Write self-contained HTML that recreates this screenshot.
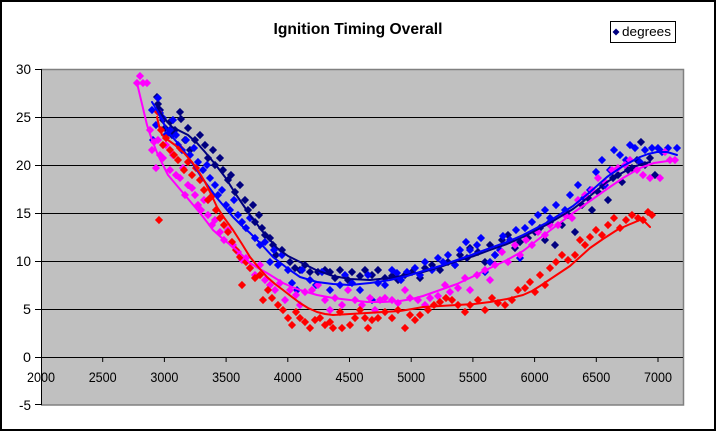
<!DOCTYPE html>
<html>
<head>
<meta charset="utf-8">
<style>
html,body{margin:0;padding:0;background:#fff;}
svg{display:block;}
text{font-family:"Liberation Sans",Arial,sans-serif;fill:#000;}
</style>
</head>
<body>
<svg width="716" height="431" viewBox="0 0 716 431" xmlns="http://www.w3.org/2000/svg">
  <rect x="1" y="1" width="714" height="429" fill="#fff" stroke="#000" stroke-width="2"/>
  <text x="358" y="34" text-anchor="middle" font-size="15.5" font-weight="bold" textLength="169" lengthAdjust="spacingAndGlyphs">Ignition Timing Overall</text>

  <!-- legend -->
  <rect x="610.5" y="21.5" width="65" height="21" fill="#fff" stroke="#000" stroke-width="1"/>
  <path d="M616 28.5l3.5 3.5-3.5 3.5-3.5-3.5z" fill="#000080"/>
  <text x="622" y="36" font-size="12.5" textLength="49" lengthAdjust="spacingAndGlyphs">degrees</text>

  <!-- plot area -->
  <rect x="41" y="69" width="642" height="336" fill="#C0C0C0"/>
  <g stroke="#000" stroke-width="1">
    <line x1="41" y1="117.5" x2="683" y2="117.5"/>
    <line x1="41" y1="165.5" x2="683" y2="165.5"/>
    <line x1="41" y1="213.5" x2="683" y2="213.5"/>
    <line x1="41" y1="261.5" x2="683" y2="261.5"/>
    <line x1="41" y1="309.5" x2="683" y2="309.5"/>
  </g>
  <path d="M41 69.5H683.5V405H41" fill="none" stroke="#808080" stroke-width="1.5"/>

  <!-- axes -->
  <g stroke="#000" stroke-width="1">
    <line x1="41.5" y1="69" x2="41.5" y2="405"/>
    <line x1="41" y1="357.5" x2="683" y2="357.5"/>
    <line x1="35" y1="69.5" x2="41" y2="69.5"/>
    <line x1="35" y1="117.5" x2="41" y2="117.5"/>
    <line x1="35" y1="165.5" x2="41" y2="165.5"/>
    <line x1="35" y1="213.5" x2="41" y2="213.5"/>
    <line x1="35" y1="261.5" x2="41" y2="261.5"/>
    <line x1="35" y1="309.5" x2="41" y2="309.5"/>
    <line x1="35" y1="357.5" x2="41" y2="357.5"/>
    <line x1="35" y1="404.5" x2="41" y2="404.5"/>
    <line x1="102.7" y1="357" x2="102.7" y2="362"/>
    <line x1="164.4" y1="357" x2="164.4" y2="362"/>
    <line x1="226.1" y1="357" x2="226.1" y2="362"/>
    <line x1="287.8" y1="357" x2="287.8" y2="362"/>
    <line x1="349.5" y1="357" x2="349.5" y2="362"/>
    <line x1="411.2" y1="357" x2="411.2" y2="362"/>
    <line x1="472.9" y1="357" x2="472.9" y2="362"/>
    <line x1="534.6" y1="357" x2="534.6" y2="362"/>
    <line x1="596.3" y1="357" x2="596.3" y2="362"/>
    <line x1="658" y1="357" x2="658" y2="362"/>
  </g>

  <g font-size="14" text-anchor="end">
    <text x="31" y="74" textLength="15" lengthAdjust="spacingAndGlyphs">30</text>
    <text x="31" y="122" textLength="15" lengthAdjust="spacingAndGlyphs">25</text>
    <text x="31" y="170" textLength="15" lengthAdjust="spacingAndGlyphs">20</text>
    <text x="31" y="218" textLength="15" lengthAdjust="spacingAndGlyphs">15</text>
    <text x="31" y="266" textLength="15" lengthAdjust="spacingAndGlyphs">10</text>
    <text x="31" y="314" textLength="8" lengthAdjust="spacingAndGlyphs">5</text>
    <text x="31" y="362" textLength="8" lengthAdjust="spacingAndGlyphs">0</text>
    <text x="31" y="410" textLength="12" lengthAdjust="spacingAndGlyphs">-5</text>
  </g>
  <g font-size="14" text-anchor="middle">
    <text x="41" y="382" textLength="28" lengthAdjust="spacingAndGlyphs">2000</text>
    <text x="102.7" y="382" textLength="28" lengthAdjust="spacingAndGlyphs">2500</text>
    <text x="164.4" y="382" textLength="28" lengthAdjust="spacingAndGlyphs">3000</text>
    <text x="226.1" y="382" textLength="28" lengthAdjust="spacingAndGlyphs">3500</text>
    <text x="287.8" y="382" textLength="28" lengthAdjust="spacingAndGlyphs">4000</text>
    <text x="349.5" y="382" textLength="28" lengthAdjust="spacingAndGlyphs">4500</text>
    <text x="411.2" y="382" textLength="28" lengthAdjust="spacingAndGlyphs">5000</text>
    <text x="472.9" y="382" textLength="28" lengthAdjust="spacingAndGlyphs">5500</text>
    <text x="534.6" y="382" textLength="28" lengthAdjust="spacingAndGlyphs">6000</text>
    <text x="596.3" y="382" textLength="28" lengthAdjust="spacingAndGlyphs">6500</text>
    <text x="658" y="382" textLength="28" lengthAdjust="spacingAndGlyphs">7000</text>
  </g>

  <!-- scatter points -->
  <g transform="translate(0,-3.5)" stroke-width="0.8" stroke-linejoin="miter">
    <!-- navy -->
    <path fill="#000080" stroke="#000080" d="
M157 97l3.5 3.5-3.5 3.5-3.5-3.5z M158 104l3.5 3.5-3.5 3.5-3.5-3.5z M160 110l3.5 3.5-3.5 3.5-3.5-3.5z M163 120l3.5 3.5-3.5 3.5-3.5-3.5z
M165 128l3.5 3.5-3.5 3.5-3.5-3.5z M170 122l3.5 3.5-3.5 3.5-3.5-3.5z M172 135l3.5 3.5-3.5 3.5-3.5-3.5z M175 130l3.5 3.5-3.5 3.5-3.5-3.5z
M180 112l3.5 3.5-3.5 3.5-3.5-3.5z M181 119l3.5 3.5-3.5 3.5-3.5-3.5z M185 140l3.5 3.5-3.5 3.5-3.5-3.5z M188 128l3.5 3.5-3.5 3.5-3.5-3.5z
M190 150l3.5 3.5-3.5 3.5-3.5-3.5z M195 140l3.5 3.5-3.5 3.5-3.5-3.5z M200 135l3.5 3.5-3.5 3.5-3.5-3.5z M205 145l3.5 3.5-3.5 3.5-3.5-3.5z
M208 158l3.5 3.5-3.5 3.5-3.5-3.5z M213 150l3.5 3.5-3.5 3.5-3.5-3.5z M215 165l3.5 3.5-3.5 3.5-3.5-3.5z M220 158l3.5 3.5-3.5 3.5-3.5-3.5z
M223 170l3.5 3.5-3.5 3.5-3.5-3.5z M228 180l3.5 3.5-3.5 3.5-3.5-3.5z M231 175l3.5 3.5-3.5 3.5-3.5-3.5z M235 192l3.5 3.5-3.5 3.5-3.5-3.5z
M240 185l3.5 3.5-3.5 3.5-3.5-3.5z M245 200l3.5 3.5-3.5 3.5-3.5-3.5z M248 210l3.5 3.5-3.5 3.5-3.5-3.5z M253 205l3.5 3.5-3.5 3.5-3.5-3.5z
M255 222l3.5 3.5-3.5 3.5-3.5-3.5z M259 215l3.5 3.5-3.5 3.5-3.5-3.5z M262 228l3.5 3.5-3.5 3.5-3.5-3.5z M265 235l3.5 3.5-3.5 3.5-3.5-3.5z
M270 238l3.5 3.5-3.5 3.5-3.5-3.5z M273 245l3.5 3.5-3.5 3.5-3.5-3.5z M276 255l3.5 3.5-3.5 3.5-3.5-3.5z M282 250l3.5 3.5-3.5 3.5-3.5-3.5z
M290 262l3.5 3.5-3.5 3.5-3.5-3.5z M295 268l3.5 3.5-3.5 3.5-3.5-3.5z M300 270l3.5 3.5-3.5 3.5-3.5-3.5z M305 265l3.5 3.5-3.5 3.5-3.5-3.5z
M310 272l3.5 3.5-3.5 3.5-3.5-3.5z M318 272l3.5 3.5-3.5 3.5-3.5-3.5z M325 270l3.5 3.5-3.5 3.5-3.5-3.5z M330 272l3.5 3.5-3.5 3.5-3.5-3.5z
M335 278l3.5 3.5-3.5 3.5-3.5-3.5z M340 270l3.5 3.5-3.5 3.5-3.5-3.5z M348 280l3.5 3.5-3.5 3.5-3.5-3.5z M352 272l3.5 3.5-3.5 3.5-3.5-3.5z
M360 276l3.5 3.5-3.5 3.5-3.5-3.5z M365 270l3.5 3.5-3.5 3.5-3.5-3.5z M372 275l3.5 3.5-3.5 3.5-3.5-3.5z M378 270l3.5 3.5-3.5 3.5-3.5-3.5z
M385 278l3.5 3.5-3.5 3.5-3.5-3.5z M392 276l3.5 3.5-3.5 3.5-3.5-3.5z M398 280l3.5 3.5-3.5 3.5-3.5-3.5z M405 275l3.5 3.5-3.5 3.5-3.5-3.5z
M412 272l3.5 3.5-3.5 3.5-3.5-3.5z M420 278l3.5 3.5-3.5 3.5-3.5-3.5z M425 268l3.5 3.5-3.5 3.5-3.5-3.5z M432 265l3.5 3.5-3.5 3.5-3.5-3.5z
M440 270l3.5 3.5-3.5 3.5-3.5-3.5z M448 262l3.5 3.5-3.5 3.5-3.5-3.5z M455 265l3.5 3.5-3.5 3.5-3.5-3.5z M460 255l3.5 3.5-3.5 3.5-3.5-3.5z
M467 258l3.5 3.5-3.5 3.5-3.5-3.5z M470 248l3.5 3.5-3.5 3.5-3.5-3.5z M478 252l3.5 3.5-3.5 3.5-3.5-3.5z M485 262l3.5 3.5-3.5 3.5-3.5-3.5z
M490 245l3.5 3.5-3.5 3.5-3.5-3.5z M495 255l3.5 3.5-3.5 3.5-3.5-3.5z M502 240l3.5 3.5-3.5 3.5-3.5-3.5z M508 235l3.5 3.5-3.5 3.5-3.5-3.5z
M515 248l3.5 3.5-3.5 3.5-3.5-3.5z M520 242l3.5 3.5-3.5 3.5-3.5-3.5z M528 238l3.5 3.5-3.5 3.5-3.5-3.5z M535 232l3.5 3.5-3.5 3.5-3.5-3.5z
M540 228l3.5 3.5-3.5 3.5-3.5-3.5z M545 240l3.5 3.5-3.5 3.5-3.5-3.5z M550 222l3.5 3.5-3.5 3.5-3.5-3.5z M555 245l3.5 3.5-3.5 3.5-3.5-3.5z
M562 225l3.5 3.5-3.5 3.5-3.5-3.5z M568 215l3.5 3.5-3.5 3.5-3.5-3.5z M575 232l3.5 3.5-3.5 3.5-3.5-3.5z M582 205l3.5 3.5-3.5 3.5-3.5-3.5z
M588 198l3.5 3.5-3.5 3.5-3.5-3.5z M592 210l3.5 3.5-3.5 3.5-3.5-3.5z M598 192l3.5 3.5-3.5 3.5-3.5-3.5z M603 186l3.5 3.5-3.5 3.5-3.5-3.5z
M608 200l3.5 3.5-3.5 3.5-3.5-3.5z M613 178l3.5 3.5-3.5 3.5-3.5-3.5z M618 175l3.5 3.5-3.5 3.5-3.5-3.5z M622 182l3.5 3.5-3.5 3.5-3.5-3.5z
M628 170l3.5 3.5-3.5 3.5-3.5-3.5z M632 168l3.5 3.5-3.5 3.5-3.5-3.5z M637 160l3.5 3.5-3.5 3.5-3.5-3.5z M641 142l3.5 3.5-3.5 3.5-3.5-3.5z
M645 165l3.5 3.5-3.5 3.5-3.5-3.5z M650 158l3.5 3.5-3.5 3.5-3.5-3.5z M655 175l3.5 3.5-3.5 3.5-3.5-3.5z"/>
    <!-- blue -->
    <path fill="#0000FF" stroke="#0000FF" d="
M152 110l3.5 3.5-3.5 3.5-3.5-3.5z M153 140l3.5 3.5-3.5 3.5-3.5-3.5z M156 125l3.5 3.5-3.5 3.5-3.5-3.5z M158 98l3.5 3.5-3.5 3.5-3.5-3.5z
M160 113l3.5 3.5-3.5 3.5-3.5-3.5z M163 118l3.5 3.5-3.5 3.5-3.5-3.5z M166 135l3.5 3.5-3.5 3.5-3.5-3.5z M170 130l3.5 3.5-3.5 3.5-3.5-3.5z
M173 120l3.5 3.5-3.5 3.5-3.5-3.5z M176 135l3.5 3.5-3.5 3.5-3.5-3.5z M178 145l3.5 3.5-3.5 3.5-3.5-3.5z M182 150l3.5 3.5-3.5 3.5-3.5-3.5z
M186 140l3.5 3.5-3.5 3.5-3.5-3.5z M190 155l3.5 3.5-3.5 3.5-3.5-3.5z M194 148l3.5 3.5-3.5 3.5-3.5-3.5z M198 162l3.5 3.5-3.5 3.5-3.5-3.5z
M203 170l3.5 3.5-3.5 3.5-3.5-3.5z M207 165l3.5 3.5-3.5 3.5-3.5-3.5z M210 178l3.5 3.5-3.5 3.5-3.5-3.5z M215 185l3.5 3.5-3.5 3.5-3.5-3.5z
M218 195l3.5 3.5-3.5 3.5-3.5-3.5z M222 190l3.5 3.5-3.5 3.5-3.5-3.5z M226 205l3.5 3.5-3.5 3.5-3.5-3.5z M230 210l3.5 3.5-3.5 3.5-3.5-3.5z
M234 200l3.5 3.5-3.5 3.5-3.5-3.5z M238 215l3.5 3.5-3.5 3.5-3.5-3.5z M242 222l3.5 3.5-3.5 3.5-3.5-3.5z M246 228l3.5 3.5-3.5 3.5-3.5-3.5z
M250 218l3.5 3.5-3.5 3.5-3.5-3.5z M255 238l3.5 3.5-3.5 3.5-3.5-3.5z M260 245l3.5 3.5-3.5 3.5-3.5-3.5z M265 242l3.5 3.5-3.5 3.5-3.5-3.5z
M270 262l3.5 3.5-3.5 3.5-3.5-3.5z M274 250l3.5 3.5-3.5 3.5-3.5-3.5z M278 265l3.5 3.5-3.5 3.5-3.5-3.5z M282 255l3.5 3.5-3.5 3.5-3.5-3.5z
M288 270l3.5 3.5-3.5 3.5-3.5-3.5z M292 283l3.5 3.5-3.5 3.5-3.5-3.5z M297 290l3.5 3.5-3.5 3.5-3.5-3.5z M302 270l3.5 3.5-3.5 3.5-3.5-3.5z
M310 280l3.5 3.5-3.5 3.5-3.5-3.5z M316 285l3.5 3.5-3.5 3.5-3.5-3.5z M322 272l3.5 3.5-3.5 3.5-3.5-3.5z M330 290l3.5 3.5-3.5 3.5-3.5-3.5z
M340 285l3.5 3.5-3.5 3.5-3.5-3.5z M345 275l3.5 3.5-3.5 3.5-3.5-3.5z M352 283l3.5 3.5-3.5 3.5-3.5-3.5z M360 290l3.5 3.5-3.5 3.5-3.5-3.5z
M368 275l3.5 3.5-3.5 3.5-3.5-3.5z M372 300l3.5 3.5-3.5 3.5-3.5-3.5z M378 283l3.5 3.5-3.5 3.5-3.5-3.5z M385 285l3.5 3.5-3.5 3.5-3.5-3.5z
M392 270l3.5 3.5-3.5 3.5-3.5-3.5z M397 273l3.5 3.5-3.5 3.5-3.5-3.5z M401 280l3.5 3.5-3.5 3.5-3.5-3.5z M407 272l3.5 3.5-3.5 3.5-3.5-3.5z
M415 268l3.5 3.5-3.5 3.5-3.5-3.5z M420 275l3.5 3.5-3.5 3.5-3.5-3.5z M425 262l3.5 3.5-3.5 3.5-3.5-3.5z M432 270l3.5 3.5-3.5 3.5-3.5-3.5z
M438 258l3.5 3.5-3.5 3.5-3.5-3.5z M443 262l3.5 3.5-3.5 3.5-3.5-3.5z M448 255l3.5 3.5-3.5 3.5-3.5-3.5z M455 265l3.5 3.5-3.5 3.5-3.5-3.5z
M460 250l3.5 3.5-3.5 3.5-3.5-3.5z M466 242l3.5 3.5-3.5 3.5-3.5-3.5z M470 250l3.5 3.5-3.5 3.5-3.5-3.5z M477 245l3.5 3.5-3.5 3.5-3.5-3.5z
M481 238l3.5 3.5-3.5 3.5-3.5-3.5z M485 272l3.5 3.5-3.5 3.5-3.5-3.5z M490 262l3.5 3.5-3.5 3.5-3.5-3.5z M495 255l3.5 3.5-3.5 3.5-3.5-3.5z
M500 250l3.5 3.5-3.5 3.5-3.5-3.5z M503 236l3.5 3.5-3.5 3.5-3.5-3.5z M510 240l3.5 3.5-3.5 3.5-3.5-3.5z M516 230l3.5 3.5-3.5 3.5-3.5-3.5z
M520 258l3.5 3.5-3.5 3.5-3.5-3.5z M525 228l3.5 3.5-3.5 3.5-3.5-3.5z M532 222l3.5 3.5-3.5 3.5-3.5-3.5z M538 215l3.5 3.5-3.5 3.5-3.5-3.5z
M545 210l3.5 3.5-3.5 3.5-3.5-3.5z M550 218l3.5 3.5-3.5 3.5-3.5-3.5z M556 205l3.5 3.5-3.5 3.5-3.5-3.5z M565 210l3.5 3.5-3.5 3.5-3.5-3.5z
M570 195l3.5 3.5-3.5 3.5-3.5-3.5z M578 185l3.5 3.5-3.5 3.5-3.5-3.5z M584 198l3.5 3.5-3.5 3.5-3.5-3.5z M590 190l3.5 3.5-3.5 3.5-3.5-3.5z
M596 172l3.5 3.5-3.5 3.5-3.5-3.5z M602 160l3.5 3.5-3.5 3.5-3.5-3.5z M605 185l3.5 3.5-3.5 3.5-3.5-3.5z M610 170l3.5 3.5-3.5 3.5-3.5-3.5z
M614 150l3.5 3.5-3.5 3.5-3.5-3.5z M620 155l3.5 3.5-3.5 3.5-3.5-3.5z M626 160l3.5 3.5-3.5 3.5-3.5-3.5z M630 145l3.5 3.5-3.5 3.5-3.5-3.5z
M635 148l3.5 3.5-3.5 3.5-3.5-3.5z M640 162l3.5 3.5-3.5 3.5-3.5-3.5z M645 150l3.5 3.5-3.5 3.5-3.5-3.5z M652 148l3.5 3.5-3.5 3.5-3.5-3.5z
M658 148l3.5 3.5-3.5 3.5-3.5-3.5z M662 152l3.5 3.5-3.5 3.5-3.5-3.5z M668 148l3.5 3.5-3.5 3.5-3.5-3.5z M677 148l3.5 3.5-3.5 3.5-3.5-3.5z"/>
    <!-- magenta -->
    <path fill="#FF00FF" stroke="#FF00FF" d="
M137 83l3.5 3.5-3.5 3.5-3.5-3.5z M140 76l3.5 3.5-3.5 3.5-3.5-3.5z M143 83l3.5 3.5-3.5 3.5-3.5-3.5z M147 83l3.5 3.5-3.5 3.5-3.5-3.5z
M150 130l3.5 3.5-3.5 3.5-3.5-3.5z M152 150l3.5 3.5-3.5 3.5-3.5-3.5z M154 142l3.5 3.5-3.5 3.5-3.5-3.5z M156 168l3.5 3.5-3.5 3.5-3.5-3.5z
M158 140l3.5 3.5-3.5 3.5-3.5-3.5z M160 155l3.5 3.5-3.5 3.5-3.5-3.5z M163 158l3.5 3.5-3.5 3.5-3.5-3.5z M166 145l3.5 3.5-3.5 3.5-3.5-3.5z
M170 170l3.5 3.5-3.5 3.5-3.5-3.5z M173 155l3.5 3.5-3.5 3.5-3.5-3.5z M176 175l3.5 3.5-3.5 3.5-3.5-3.5z M180 178l3.5 3.5-3.5 3.5-3.5-3.5z
M183 168l3.5 3.5-3.5 3.5-3.5-3.5z M185 195l3.5 3.5-3.5 3.5-3.5-3.5z M188 185l3.5 3.5-3.5 3.5-3.5-3.5z M192 188l3.5 3.5-3.5 3.5-3.5-3.5z
M195 195l3.5 3.5-3.5 3.5-3.5-3.5z M198 205l3.5 3.5-3.5 3.5-3.5-3.5z M201 210l3.5 3.5-3.5 3.5-3.5-3.5z M204 200l3.5 3.5-3.5 3.5-3.5-3.5z
M208 215l3.5 3.5-3.5 3.5-3.5-3.5z M212 225l3.5 3.5-3.5 3.5-3.5-3.5z M215 220l3.5 3.5-3.5 3.5-3.5-3.5z M220 232l3.5 3.5-3.5 3.5-3.5-3.5z
M224 240l3.5 3.5-3.5 3.5-3.5-3.5z M228 230l3.5 3.5-3.5 3.5-3.5-3.5z M233 245l3.5 3.5-3.5 3.5-3.5-3.5z M238 252l3.5 3.5-3.5 3.5-3.5-3.5z
M242 260l3.5 3.5-3.5 3.5-3.5-3.5z M246 258l3.5 3.5-3.5 3.5-3.5-3.5z M250 268l3.5 3.5-3.5 3.5-3.5-3.5z M255 275l3.5 3.5-3.5 3.5-3.5-3.5z
M260 265l3.5 3.5-3.5 3.5-3.5-3.5z M265 280l3.5 3.5-3.5 3.5-3.5-3.5z M270 285l3.5 3.5-3.5 3.5-3.5-3.5z M275 290l3.5 3.5-3.5 3.5-3.5-3.5z
M280 283l3.5 3.5-3.5 3.5-3.5-3.5z M285 300l3.5 3.5-3.5 3.5-3.5-3.5z M290 290l3.5 3.5-3.5 3.5-3.5-3.5z M296 295l3.5 3.5-3.5 3.5-3.5-3.5z
M300 305l3.5 3.5-3.5 3.5-3.5-3.5z M305 292l3.5 3.5-3.5 3.5-3.5-3.5z M312 290l3.5 3.5-3.5 3.5-3.5-3.5z M318 285l3.5 3.5-3.5 3.5-3.5-3.5z
M325 300l3.5 3.5-3.5 3.5-3.5-3.5z M330 310l3.5 3.5-3.5 3.5-3.5-3.5z M335 298l3.5 3.5-3.5 3.5-3.5-3.5z M342 305l3.5 3.5-3.5 3.5-3.5-3.5z
M348 290l3.5 3.5-3.5 3.5-3.5-3.5z M355 300l3.5 3.5-3.5 3.5-3.5-3.5z M362 305l3.5 3.5-3.5 3.5-3.5-3.5z M370 298l3.5 3.5-3.5 3.5-3.5-3.5z
M375 310l3.5 3.5-3.5 3.5-3.5-3.5z M380 300l3.5 3.5-3.5 3.5-3.5-3.5z M385 298l3.5 3.5-3.5 3.5-3.5-3.5z M392 300l3.5 3.5-3.5 3.5-3.5-3.5z
M398 303l3.5 3.5-3.5 3.5-3.5-3.5z M405 290l3.5 3.5-3.5 3.5-3.5-3.5z M410 298l3.5 3.5-3.5 3.5-3.5-3.5z M418 300l3.5 3.5-3.5 3.5-3.5-3.5z
M425 305l3.5 3.5-3.5 3.5-3.5-3.5z M430 298l3.5 3.5-3.5 3.5-3.5-3.5z M438 296l3.5 3.5-3.5 3.5-3.5-3.5z M445 285l3.5 3.5-3.5 3.5-3.5-3.5z
M450 292l3.5 3.5-3.5 3.5-3.5-3.5z M458 288l3.5 3.5-3.5 3.5-3.5-3.5z M465 278l3.5 3.5-3.5 3.5-3.5-3.5z M470 290l3.5 3.5-3.5 3.5-3.5-3.5z
M477 275l3.5 3.5-3.5 3.5-3.5-3.5z M485 270l3.5 3.5-3.5 3.5-3.5-3.5z M490 280l3.5 3.5-3.5 3.5-3.5-3.5z M495 265l3.5 3.5-3.5 3.5-3.5-3.5z
M502 252l3.5 3.5-3.5 3.5-3.5-3.5z M508 262l3.5 3.5-3.5 3.5-3.5-3.5z M515 245l3.5 3.5-3.5 3.5-3.5-3.5z M520 255l3.5 3.5-3.5 3.5-3.5-3.5z
M526 240l3.5 3.5-3.5 3.5-3.5-3.5z M532 245l3.5 3.5-3.5 3.5-3.5-3.5z M538 232l3.5 3.5-3.5 3.5-3.5-3.5z M545 235l3.5 3.5-3.5 3.5-3.5-3.5z
M550 225l3.5 3.5-3.5 3.5-3.5-3.5z M558 225l3.5 3.5-3.5 3.5-3.5-3.5z M565 215l3.5 3.5-3.5 3.5-3.5-3.5z M572 218l3.5 3.5-3.5 3.5-3.5-3.5z
M578 200l3.5 3.5-3.5 3.5-3.5-3.5z M585 195l3.5 3.5-3.5 3.5-3.5-3.5z M592 190l3.5 3.5-3.5 3.5-3.5-3.5z M598 178l3.5 3.5-3.5 3.5-3.5-3.5z
M605 182l3.5 3.5-3.5 3.5-3.5-3.5z M612 170l3.5 3.5-3.5 3.5-3.5-3.5z M618 168l3.5 3.5-3.5 3.5-3.5-3.5z M625 165l3.5 3.5-3.5 3.5-3.5-3.5z
M630 160l3.5 3.5-3.5 3.5-3.5-3.5z M637 170l3.5 3.5-3.5 3.5-3.5-3.5z M643 175l3.5 3.5-3.5 3.5-3.5-3.5z M650 178l3.5 3.5-3.5 3.5-3.5-3.5z
M660 178l3.5 3.5-3.5 3.5-3.5-3.5z M665 152l3.5 3.5-3.5 3.5-3.5-3.5z M670 160l3.5 3.5-3.5 3.5-3.5-3.5z M675 160l3.5 3.5-3.5 3.5-3.5-3.5z"/>
    <!-- red -->
    <path fill="#FF0000" stroke="#FF0000" d="
M158 112l3.5 3.5-3.5 3.5-3.5-3.5z M159 220l3.5 3.5-3.5 3.5-3.5-3.5z M161 130l3.5 3.5-3.5 3.5-3.5-3.5z M163 145l3.5 3.5-3.5 3.5-3.5-3.5z
M166 138l3.5 3.5-3.5 3.5-3.5-3.5z M170 150l3.5 3.5-3.5 3.5-3.5-3.5z M174 155l3.5 3.5-3.5 3.5-3.5-3.5z M178 160l3.5 3.5-3.5 3.5-3.5-3.5z
M180 148l3.5 3.5-3.5 3.5-3.5-3.5z M184 170l3.5 3.5-3.5 3.5-3.5-3.5z M188 162l3.5 3.5-3.5 3.5-3.5-3.5z M192 175l3.5 3.5-3.5 3.5-3.5-3.5z
M196 168l3.5 3.5-3.5 3.5-3.5-3.5z M200 180l3.5 3.5-3.5 3.5-3.5-3.5z M204 190l3.5 3.5-3.5 3.5-3.5-3.5z M208 200l3.5 3.5-3.5 3.5-3.5-3.5z
M212 196l3.5 3.5-3.5 3.5-3.5-3.5z M216 210l3.5 3.5-3.5 3.5-3.5-3.5z M220 218l3.5 3.5-3.5 3.5-3.5-3.5z M224 225l3.5 3.5-3.5 3.5-3.5-3.5z
M228 232l3.5 3.5-3.5 3.5-3.5-3.5z M232 242l3.5 3.5-3.5 3.5-3.5-3.5z M236 250l3.5 3.5-3.5 3.5-3.5-3.5z M240 257l3.5 3.5-3.5 3.5-3.5-3.5z
M242 285l3.5 3.5-3.5 3.5-3.5-3.5z M246 262l3.5 3.5-3.5 3.5-3.5-3.5z M250 268l3.5 3.5-3.5 3.5-3.5-3.5z M255 278l3.5 3.5-3.5 3.5-3.5-3.5z
M260 275l3.5 3.5-3.5 3.5-3.5-3.5z M263 300l3.5 3.5-3.5 3.5-3.5-3.5z M268 290l3.5 3.5-3.5 3.5-3.5-3.5z M272 298l3.5 3.5-3.5 3.5-3.5-3.5z
M278 305l3.5 3.5-3.5 3.5-3.5-3.5z M283 310l3.5 3.5-3.5 3.5-3.5-3.5z M288 318l3.5 3.5-3.5 3.5-3.5-3.5z M292 325l3.5 3.5-3.5 3.5-3.5-3.5z
M296 312l3.5 3.5-3.5 3.5-3.5-3.5z M300 318l3.5 3.5-3.5 3.5-3.5-3.5z M305 322l3.5 3.5-3.5 3.5-3.5-3.5z M310 328l3.5 3.5-3.5 3.5-3.5-3.5z
M315 320l3.5 3.5-3.5 3.5-3.5-3.5z M320 318l3.5 3.5-3.5 3.5-3.5-3.5z M325 325l3.5 3.5-3.5 3.5-3.5-3.5z M330 322l3.5 3.5-3.5 3.5-3.5-3.5z
M333 328l3.5 3.5-3.5 3.5-3.5-3.5z M340 312l3.5 3.5-3.5 3.5-3.5-3.5z M342 328l3.5 3.5-3.5 3.5-3.5-3.5z M350 325l3.5 3.5-3.5 3.5-3.5-3.5z
M355 318l3.5 3.5-3.5 3.5-3.5-3.5z M360 310l3.5 3.5-3.5 3.5-3.5-3.5z M365 318l3.5 3.5-3.5 3.5-3.5-3.5z M368 328l3.5 3.5-3.5 3.5-3.5-3.5z
M372 320l3.5 3.5-3.5 3.5-3.5-3.5z M378 318l3.5 3.5-3.5 3.5-3.5-3.5z M385 312l3.5 3.5-3.5 3.5-3.5-3.5z M392 318l3.5 3.5-3.5 3.5-3.5-3.5z
M398 310l3.5 3.5-3.5 3.5-3.5-3.5z M405 328l3.5 3.5-3.5 3.5-3.5-3.5z M410 315l3.5 3.5-3.5 3.5-3.5-3.5z M415 320l3.5 3.5-3.5 3.5-3.5-3.5z
M420 315l3.5 3.5-3.5 3.5-3.5-3.5z M428 310l3.5 3.5-3.5 3.5-3.5-3.5z M434 305l3.5 3.5-3.5 3.5-3.5-3.5z M440 302l3.5 3.5-3.5 3.5-3.5-3.5z
M446 298l3.5 3.5-3.5 3.5-3.5-3.5z M452 300l3.5 3.5-3.5 3.5-3.5-3.5z M458 305l3.5 3.5-3.5 3.5-3.5-3.5z M465 312l3.5 3.5-3.5 3.5-3.5-3.5z
M470 305l3.5 3.5-3.5 3.5-3.5-3.5z M478 300l3.5 3.5-3.5 3.5-3.5-3.5z M485 310l3.5 3.5-3.5 3.5-3.5-3.5z M492 298l3.5 3.5-3.5 3.5-3.5-3.5z
M498 303l3.5 3.5-3.5 3.5-3.5-3.5z M505 305l3.5 3.5-3.5 3.5-3.5-3.5z M512 300l3.5 3.5-3.5 3.5-3.5-3.5z M518 290l3.5 3.5-3.5 3.5-3.5-3.5z
M525 288l3.5 3.5-3.5 3.5-3.5-3.5z M530 282l3.5 3.5-3.5 3.5-3.5-3.5z M535 292l3.5 3.5-3.5 3.5-3.5-3.5z M540 275l3.5 3.5-3.5 3.5-3.5-3.5z
M545 285l3.5 3.5-3.5 3.5-3.5-3.5z M550 268l3.5 3.5-3.5 3.5-3.5-3.5z M556 262l3.5 3.5-3.5 3.5-3.5-3.5z M562 255l3.5 3.5-3.5 3.5-3.5-3.5z
M568 260l3.5 3.5-3.5 3.5-3.5-3.5z M575 255l3.5 3.5-3.5 3.5-3.5-3.5z M580 240l3.5 3.5-3.5 3.5-3.5-3.5z M585 245l3.5 3.5-3.5 3.5-3.5-3.5z
M590 237l3.5 3.5-3.5 3.5-3.5-3.5z M596 230l3.5 3.5-3.5 3.5-3.5-3.5z M602 235l3.5 3.5-3.5 3.5-3.5-3.5z M608 225l3.5 3.5-3.5 3.5-3.5-3.5z
M614 218l3.5 3.5-3.5 3.5-3.5-3.5z M620 228l3.5 3.5-3.5 3.5-3.5-3.5z M626 220l3.5 3.5-3.5 3.5-3.5-3.5z M632 215l3.5 3.5-3.5 3.5-3.5-3.5z
M638 218l3.5 3.5-3.5 3.5-3.5-3.5z M643 220l3.5 3.5-3.5 3.5-3.5-3.5z M648 212l3.5 3.5-3.5 3.5-3.5-3.5z M652 215l3.5 3.5-3.5 3.5-3.5-3.5z"/>
  </g>

  <!-- trendlines -->
  <g fill="none" stroke-width="2" stroke-linejoin="round" stroke-linecap="round">
    <polyline stroke="#000080" points="157,107 164,118 172,127 180,131 188,135 197,143 205,152 215,164 225,177 237,196 250,215 263,232 277,248 288,256 300,262 316,270 333,276 350,279 370,280 390,278 407,275 423,272 440,267 457,261 474,256 490,250 507,244 523,237 548,224 573,209 590,196 607,182 620,174 633,167 642,164 650,162"/>
    <polyline stroke="#0000FF" points="152,102 155,107 158,112 163,122 168,132 175,140 182,148 192,163 202,178 217,198 233,217 241,225 250,233 262,245 273,257 287,268 300,277 317,282 333,284 350,285 370,283 390,280 407,276 423,271 440,266 457,260 474,254 490,248 507,242 523,235 548,222 573,206 590,192 607,177 623,166 640,157 648,154 657,152 667,152 677,155"/>
    <polyline stroke="#FF00FF" points="137,83 142,104 147,125 152,140 158,155 163,165 168,175 184,194 200,213 207,222 213,230 223,239 233,247 242,255 250,263 258,268 267,273 275,278 283,283 292,287 300,290 317,295 333,298 350,300 367,302 383,302 400,301 412,299 423,296 440,290 457,284 474,276 490,268 507,260 523,251 548,232 573,213 590,201 607,189 623,178 640,168 654,163 668,161"/>
    <polyline stroke="#FF0000" points="157,117 159,126 162,135 168,140 175,145 184,153 192,162 199,172 205,182 211,194 217,207 225,219 233,230 242,244 250,257 259,268 267,277 275,284 283,290 292,297 300,303 308,308 317,312 325,314 333,315 350,314 367,313 383,312 400,311 412,309 423,307 440,306 457,305 474,304 490,302 507,299 523,295 532,291 540,286 555,276 570,266 580,257 590,248 603,239 617,230 628,225 640,220 645,222 650,227"/>
  </g>
</svg>
</body>
</html>
